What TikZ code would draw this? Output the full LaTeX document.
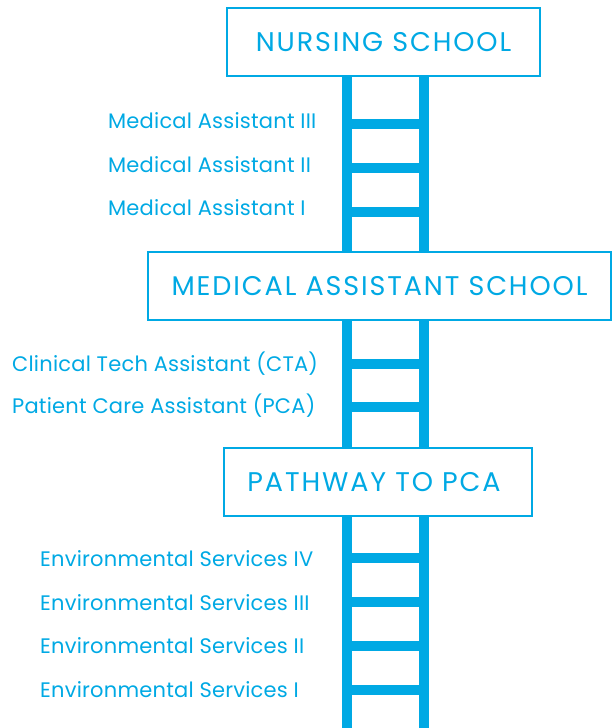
\documentclass[tikz,border=0pt]{standalone}
\usepackage{fontspec}
\setmainfont{Poppins}
\usetikzlibrary{positioning}
\definecolor{sky}{HTML}{00A9E4}

\begin{document}
\begin{tikzpicture}[x=1pt, y=-1pt,
    school/.style={draw=sky, line width=2pt, fill=white, text=sky,
      font=\fontsize{27}{32}\selectfont\addfontfeatures{LetterSpace=7},
      minimum height=68pt, inner sep=0pt},
    rail/.style={sky, line width=10pt},
    rung/.style={sky, line width=10pt},
    job/.style={text=sky, font=\fontsize{21}{25}\selectfont\addfontfeatures{LetterSpace=1},
      anchor=base west, inner sep=0pt}]
  \useasboundingbox (0,0) rectangle (613,728);
  % the two rails go all the way down, the boxes cover them
  \coordinate (topL) at (347,77);
  \coordinate (topR) at (424,77);
  \coordinate (footL) at (347,728);
  \coordinate (footR) at (424,728);
  \draw[rail] (topL) -- (footL);
  \draw[rail] (topR) -- (footR);
  % rungs, each with its job title (x, rung y, baseline y)
  \foreach \id/\xx/\ry/\by/\txt in {ma3/108/124/128/Medical Assistant III,
      ma2/108/168/172/Medical Assistant II, ma1/108/212/215/Medical Assistant I,
      cta/12/364/371/Clinical Tech Assistant (CTA),
      pca/12/407/413/Patient Care Assistant (PCA),
      es4/40/558/566/Environmental Services IV, es3/40/602/610/Environmental Services III,
      es2/40/646/653/Environmental Services II, es1/40/690/697/Environmental Services I}{
    \coordinate (r-\id) at (385,\ry);
    \node[job] (\id) at (\xx,\by) {\txt};
    \draw[rung] (topL |- r-\id) -- (topR |- r-\id);
  }
  % the three schools
  \node[school, minimum width=313pt] (nursing) at (383.5,42) {NURSING SCHOOL};
  \node[school, minimum width=463pt] (mas) at (379.5,286) {MEDICAL ASSISTANT SCHOOL};
  \node[school, minimum width=308pt] (path) at (378,482) {PATHWAY TO PCA\hspace*{8pt}};
\end{tikzpicture}
\end{document}
